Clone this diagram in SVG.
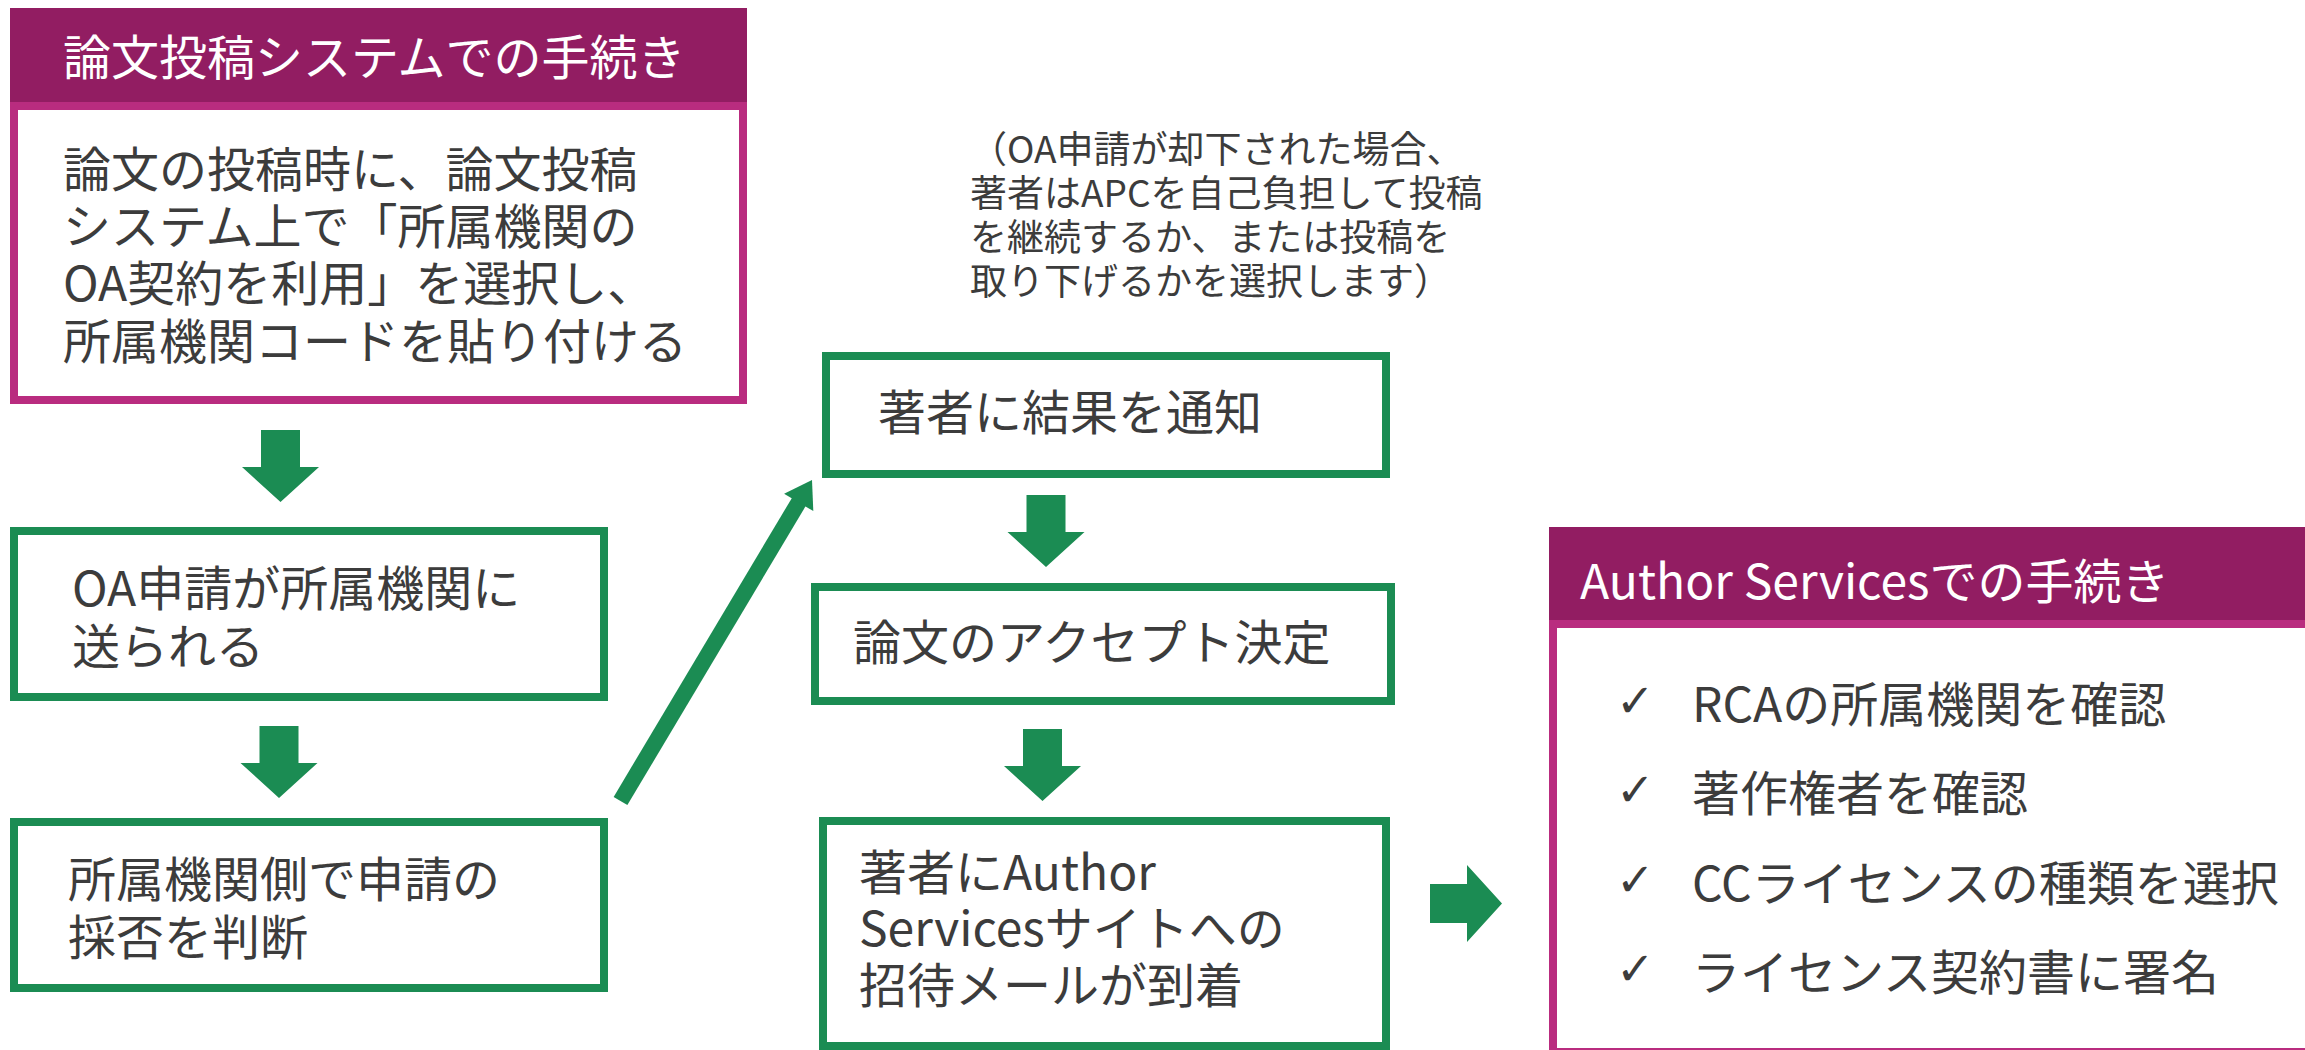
<svg xmlns="http://www.w3.org/2000/svg" xmlns:xlink="http://www.w3.org/1999/xlink" width="2305" height="1050" viewBox="0 0 2305 1050">
<style>
text{font-family:"Noto Sans CJK JP","Noto Sans",sans-serif;}
.t{font-size:48px;fill:#3c3c3c;}
.h{font-size:48px;fill:#ffffff;}
.n{font-size:37px;fill:#3c3c3c;}
.ck{font-size:46px;fill:#3c3c3c;font-family:"DejaVu Sans",sans-serif;}
.hdr{fill:#921d62;}
.pbox{fill:#ffffff;stroke:#b92c7f;stroke-width:8;}
.gbox{fill:#ffffff;stroke:#1b8c53;stroke-width:8;}
.arr{fill:#1b8c53;}
</style>
<defs>
<polygon id="down" points="-19.5,0 19.5,0 19.5,37 38.5,37 0,72 -38.5,37 -19.5,37"/>
</defs>
<rect width="2305" height="1050" fill="#ffffff"/>

<g id="node-submission">
<rect class="hdr" x="10" y="8" width="737" height="94"/>
<text class="h" x="63" y="75">論文投稿システムでの手続き</text>
<rect class="pbox" x="14" y="106" width="729" height="294"/>
<text class="t" x="63" y="187">論文の投稿時に、論文投稿</text>
<text class="t" x="63" y="244">システム上で「所属機関の</text>
<text class="t" x="63" y="301">OA契約を利用」を選択し、</text>
<text class="t" x="63" y="359">所属機関コードを貼り付ける</text>
</g>

<g id="node-sent">
<rect class="gbox" x="14" y="531" width="590" height="166"/>
<text class="t" x="72" y="606">OA申請が所属機関に</text>
<text class="t" x="72" y="664">送られる</text>
</g>

<g id="node-judge">
<rect class="gbox" x="14" y="822" width="590" height="166"/>
<text class="t" x="68" y="897">所属機関側で申請の</text>
<text class="t" x="68" y="955">採否を判断</text>
</g>

<g id="note">
<text class="n" x="970" y="163">（OA申請が却下された場合、</text>
<text class="n" x="970" y="207">著者はAPCを自己負担して投稿</text>
<text class="n" x="970" y="251">を継続するか、または投稿を</text>
<text class="n" x="970" y="295">取り下げるかを選択します）</text>
</g>

<g id="node-notify">
<rect class="gbox" x="826" y="356" width="560" height="118"/>
<text class="t" x="878" y="430">著者に結果を通知</text>
</g>

<g id="node-accept">
<rect class="gbox" x="815" y="587" width="576" height="114"/>
<text class="t" x="853" y="660">論文のアクセプト決定</text>
</g>

<g id="node-invite">
<rect class="gbox" x="823" y="821" width="563" height="225"/>
<text class="t" x="859" y="890">著者にAuthor</text>
<text class="t" x="859" y="946">Servicesサイトへの</text>
<text class="t" x="859" y="1003">招待メールが到着</text>
</g>

<g id="node-authorservices">
<rect class="pbox" x="1553" y="624" width="800" height="428"/>
<rect class="hdr" x="1549" y="527" width="756" height="93"/>
<text class="h" x="1580" y="599">Author Servicesでの手続き</text>
<text class="ck" x="1616" y="717">✓</text>
<text class="t" x="1692" y="722">RCAの所属機関を確認</text>
<text class="ck" x="1616" y="806">✓</text>
<text class="t" x="1692" y="811">著作権者を確認</text>
<text class="ck" x="1616" y="896">✓</text>
<text class="t" x="1692" y="901">CCライセンスの種類を選択</text>
<text class="ck" x="1616" y="985">✓</text>
<text class="t" x="1692" y="990">ライセンス契約書に署名</text>
</g>

<g id="connectors">
<use href="#down" xlink:href="#down" class="arr" transform="translate(280.5,430)"/>
<use href="#down" xlink:href="#down" class="arr" transform="translate(279,726)"/>
<use href="#down" xlink:href="#down" class="arr" transform="translate(1046,495)"/>
<use href="#down" xlink:href="#down" class="arr" transform="translate(1042.5,729)"/>
<polygon class="arr" points="1430,884 1467,884 1467,865 1502,903.5 1467,942 1467,923 1430,923"/>
<line x1="620.5" y1="801" x2="800" y2="500" stroke="#1b8c53" stroke-width="16"/>
<polygon class="arr" points="812,480 813.3,511.1 784.1,493.7"/>
</g>
</svg>
